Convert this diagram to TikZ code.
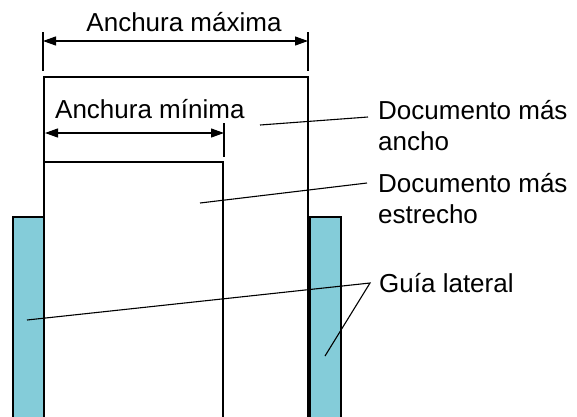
\documentclass[tikz,border=0pt]{standalone}
\usepackage{fontspec}
\setmainfont{Liberation Sans}
\usepackage{tikz}
\usetikzlibrary{arrows.meta, positioning}
\definecolor{cGuide}{RGB}{132,204,217}
\tikzset{
	sheet/.style    ={draw=black, line width=2.8pt, fill=white},
	guide/.style    ={draw=black, line width=2.8pt, fill=cGuide},
	dimline/.style  ={{Triangle[length=13pt, width=9pt]}-{Triangle[length=13pt, width=9pt]}, line width=1.2pt},
	extline/.style  ={line width=1.2pt},
	leader/.style   ={line width=1.1pt},
	lbl/.style      ={inner sep=0pt, align=left, font=\fontsize{26}{31}\selectfont},
}
\begin{document}
\begin{tikzpicture}[x=1pt, y=-1pt]
	\useasboundingbox (0,0) rectangle (577,416);
	% documents and side guides
	\path[sheet] (44,77) rectangle (308,430);
	\path[sheet] (44,162) rectangle (223,430);
	\path[guide] (13,217) rectangle (44,430);
	\path[guide] (310,217) rectangle (341,430);
	% dimension lines
	\coordinate (maxL) at (43,41);
	\coordinate (maxR) at (308,41);
	\draw[extline] (43,32) -- (43,71);
	\draw[extline] (308,32) -- (308,71);
	\draw[dimline] (maxL) -- (maxR);
	\node[lbl, anchor=base] (maxw) at (184,31) {Anchura máxima};
	\coordinate (minL) at (45,133);
	\coordinate (minR) at (224,133);
	\draw[extline] (224,123) -- (224,157);
	\draw[dimline] (minL) -- (minR);
	\node[lbl, anchor=base west] (minw) at (55,118) {Anchura mínima};
	% labels (base = last line)
	\node[lbl, anchor=base west] (wide) at (378,150) {Documento más\\ancho};
	\node[lbl, anchor=base west] (narrow) at (378,223) {Documento más\\estrecho};
	\node[lbl, anchor=base west] (side) at (379,292) {Guía lateral};
	% leader ends
	\coordinate (wideIn) at (260,125);
	\coordinate (wideOut) at (368,117);
	\coordinate (narrowIn) at (200,203);
	\coordinate (narrowOut) at (367,183);
	\coordinate (sideOut) at (370,283);
	\coordinate (sideL) at (27,320);
	\coordinate (sideR) at (325,356);
	\draw[leader] (wideIn) -- (wideOut);
	\draw[leader] (narrowIn) -- (narrowOut);
	\draw[leader] (sideL) -- (sideOut) -- (sideR);
\end{tikzpicture}
\end{document}
